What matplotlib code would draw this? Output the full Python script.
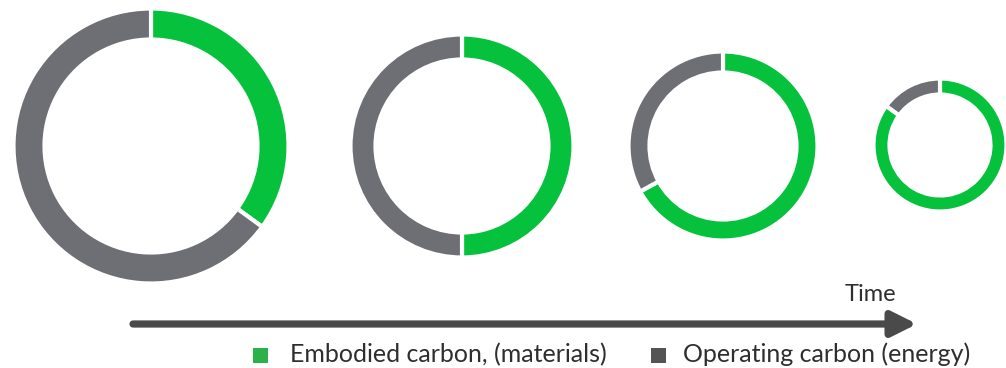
import matplotlib
matplotlib.use("Agg")
import matplotlib.pyplot as plt
from matplotlib.patches import Rectangle

# Share of lifetime carbon at four successive points in time (percent)
stages = ["Stage 1", "Stage 2", "Stage 3", "Stage 4"]
embodied = [35, 50, 67, 85]
operating = [65, 50, 33, 15]

legend_labels = ["Embodied carbon, (materials)", "Operating carbon (energy)"]
axis_label = "Time"

GREEN = "#05C13B"
GREY = "#6E6E75"
LEG_GREEN = "#2BB04A"
LEG_GREY = "#545454"
ARROW = "#4A4A4A"
TEXT = "#2E2E2E"

W, H = 1006, 368
fig = plt.figure(figsize=(W / 100, H / 100), dpi=100)
ax = fig.add_axes([0, 0, 1, 1])

# ring layout in pixel units (y measured upward)
centers = [(151, 368 - 146), (462, 368 - 146), (723, 368 - 146), (940, 368 - 145)]
radii = [137.5, 111.5, 94.5, 66.5]
widths = [31, 25, 21, 16]

for (cx, cy), r, w, e, o in zip(centers, radii, widths, embodied, operating):
    ax.pie([e, o], colors=[GREEN, GREY], startangle=90, counterclock=False,
           center=(cx, cy), radius=r,
           wedgeprops=dict(width=w, edgecolor="white", linewidth=3.0))

# time arrow
ax.annotate("", xy=(917, 368 - 324), xytext=(133, 368 - 324),
            arrowprops=dict(arrowstyle="-|>,head_length=1.0,head_width=0.5",
                            lw=5.2, color=ARROW, mutation_scale=15,
                            shrinkA=0, shrinkB=0))
ax.text(845, 368 - 301, axis_label, ha="left", va="baseline",
        fontsize=17, color=TEXT, family="Lato")

# legend
ax.add_patch(Rectangle((253, 368 - 363), 15, 15, color=LEG_GREEN, lw=0))
ax.text(290, 368 - 362, legend_labels[0], ha="left", va="baseline",
        fontsize=18, color=TEXT, family="Lato")
ax.add_patch(Rectangle((651, 368 - 363), 15, 15, color=LEG_GREY, lw=0))
ax.text(683, 368 - 362, legend_labels[1], ha="left", va="baseline",
        fontsize=18, color=TEXT, family="Lato")

ax.set_xlim(0, W)
ax.set_ylim(0, H)
ax.set_aspect("equal")
ax.axis("off")

fig.savefig("out.png", dpi=100, facecolor="white")
